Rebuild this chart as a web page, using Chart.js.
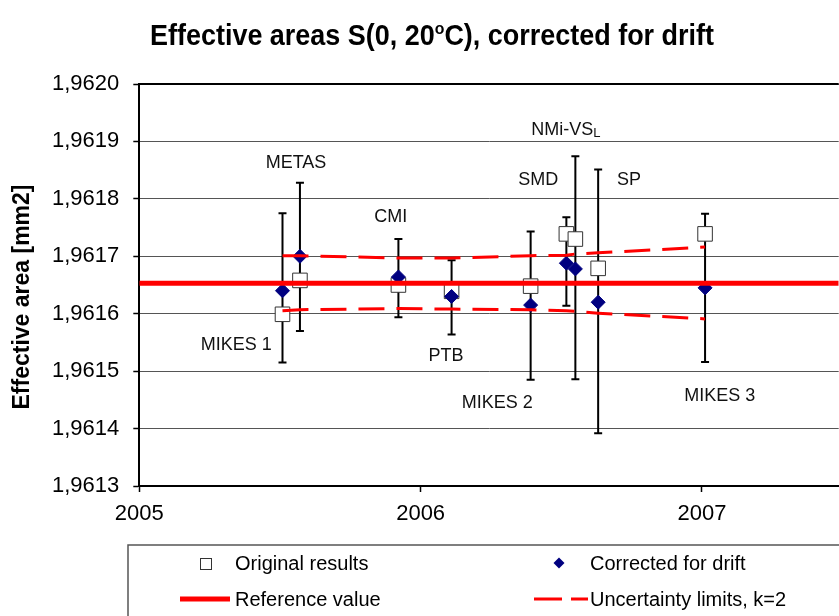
<!DOCTYPE html>
<html>
<head>
<meta charset="utf-8">
<title>Effective areas S(0, 20oC)</title>
<script src="https://cdn.jsdelivr.net/npm/chart.js@4.4.0/dist/chart.umd.min.js"></script>
<style>
  html, body { margin: 0; padding: 0; background: #fff; overflow: hidden; }
  /* the plot area runs off the right edge, so the canvas is a bit wider than the picture */
  #wrap { position: relative; width: 839px; height: 616px; overflow: hidden; }
</style>
</head>
<body>
<div id="wrap"><canvas id="chart" width="850" height="616"></canvas></div>
<script>
// participants and the date of each measurement (decimal year)
const labs = ['MIKES 1', 'METAS', 'CMI', 'PTB', 'MIKES 2', 'SMD', 'NMi-VSL', 'SP', 'MIKES 3'];
const dates = [2005.509, 2005.571, 2005.921, 2006.110, 2006.391, 2006.518, 2006.550, 2006.631, 2007.011];

// effective areas [mm2]
const original = [1.961599, 1.961658, 1.961650, 1.961639, 1.961648, 1.961739, 1.961730, 1.961679, 1.961739];
const corrected = [1.961640, 1.961700, 1.961664, 1.961630, 1.961615, 1.961688, 1.961678, 1.961620, 1.961645];

// error bars round the corrected values
const errLow = [1.961515, 1.961570, 1.961594, 1.961564, 1.961485, 1.961614, 1.961486, 1.961392, 1.961516];
const errHigh = [1.961775, 1.961828, 1.961730, 1.961693, 1.961743, 1.961768, 1.961874, 1.961851, 1.961774];

// reference value and uncertainty limits (k=2)
const refValue = 1.961653;
const upperLimit = [1.961701, 1.961701, 1.961697, 1.961697, 1.961701, 1.961702, 1.961704, 1.961706, 1.961716];
const lowerLimit = [1.961605, 1.961607, 1.961609, 1.961608, 1.961607, 1.961605, 1.961604, 1.961601, 1.961591];

// axes
const xTicks = [2005, 2006, 2007];
const yTicks = [1.9613, 1.9614, 1.9615, 1.9616, 1.9617, 1.9618, 1.9619, 1.9620];
const xMin = 2005, xMax = 2007.486;

// where the participant names sit (x = year, y = area)
const labelAt = [
  [2005.345, 1.961546], [2005.557, 1.961863], [2005.894, 1.961769],
  [2006.090, 1.961526], [2006.272, 1.961444], [2006.418, 1.961832],
  [2006.516, 1.961920], [2006.741, 1.961832], [2007.063, 1.961457]
];

const FONT = "'Liberation Sans', Arial, sans-serif";

// error bars, drawn under the markers
const errorBars = {
  id: 'errorBars',
  beforeDatasetsDraw(chart) {
    const ctx = chart.ctx, xs = chart.scales.x, ys = chart.scales.y;
    ctx.save();
    ctx.strokeStyle = '#000';
    ctx.lineWidth = 2;
    for (let i = 0; i < dates.length; i++) {
      const x = xs.getPixelForValue(dates[i]);
      const y1 = ys.getPixelForValue(errLow[i]);
      const y2 = ys.getPixelForValue(errHigh[i]);
      ctx.beginPath();
      ctx.moveTo(x, y1); ctx.lineTo(x, y2);
      ctx.moveTo(x - 4, y1); ctx.lineTo(x + 4, y1);
      ctx.moveTo(x - 4, y2); ctx.lineTo(x + 4, y2);
      ctx.stroke();
    }
    ctx.restore();
  }
};

// title, names, y title, top border and legend box
const extras = {
  id: 'extras',
  afterDraw(chart) {
    const ctx = chart.ctx, xs = chart.scales.x, ys = chart.scales.y;
    const area = chart.chartArea;
    ctx.save();

    // top border of the plot area
    ctx.strokeStyle = '#000';
    ctx.lineWidth = 2;
    ctx.beginPath();
    ctx.moveTo(area.left, area.top); ctx.lineTo(area.right, area.top);
    ctx.stroke();

    // participant names
    ctx.fillStyle = '#111';
    ctx.textBaseline = 'middle';
    ctx.font = '18px ' + FONT;
    for (let i = 0; i < labs.length; i++) {
      const x = xs.getPixelForValue(labelAt[i][0]);
      const y = ys.getPixelForValue(labelAt[i][1]);
      if (labs[i] === 'NMi-VSL') {
        ctx.font = '18px ' + FONT;
        const w1 = ctx.measureText('NMi-VS').width;
        ctx.font = '13px ' + FONT;
        const w2 = ctx.measureText('L').width;
        ctx.textAlign = 'left';
        ctx.font = '18px ' + FONT;
        ctx.fillText('NMi-VS', x - (w1 + w2) / 2, y);
        ctx.font = '13px ' + FONT;
        ctx.fillText('L', x - (w1 + w2) / 2 + w1, y + 3);
        ctx.font = '18px ' + FONT;
      } else {
        ctx.textAlign = 'center';
        ctx.fillText(labs[i], x, y);
      }
    }

    // chart title with superscript o
    const F = 29;
    const p1 = 'Effective areas S(0, 20', p2 = 'o', p3 = 'C), corrected for drift';
    ctx.font = 'bold ' + F + 'px ' + FONT;
    const w1 = ctx.measureText(p1).width, w3 = ctx.measureText(p3).width;
    ctx.font = 'bold ' + Math.round(F * 0.6) + 'px ' + FONT;
    const w2 = ctx.measureText(p2).width;
    const total = w1 + w2 + w3;
    const sx = 564 / total;
    const base = 45;
    ctx.save();
    ctx.translate(432 - 282, 0);
    ctx.scale(sx, 1);
    ctx.fillStyle = '#000';
    ctx.textAlign = 'left';
    ctx.textBaseline = 'alphabetic';
    ctx.font = 'bold ' + F + 'px ' + FONT;
    ctx.fillText(p1, 0, base);
    ctx.font = 'bold ' + Math.round(F * 0.6) + 'px ' + FONT;
    ctx.fillText(p2, w1, base - F * 0.38);
    ctx.font = 'bold ' + F + 'px ' + FONT;
    ctx.fillText(p3, w1 + w2, base);
    ctx.restore();

    // y axis title
    ctx.save();
    ctx.translate(23, 297);
    ctx.rotate(-Math.PI / 2);
    ctx.fillStyle = '#000';
    ctx.textAlign = 'center';
    ctx.textBaseline = 'middle';
    ctx.font = 'bold 23px ' + FONT;
    ctx.fillText('Effective area [mm2]', 0, 0);
    ctx.restore();

    // legend
    ctx.strokeStyle = '#555';
    ctx.lineWidth = 1.5;
    ctx.strokeRect(128, 545, 800, 120);
    ctx.font = '20px ' + FONT;
    ctx.textAlign = 'left';
    ctx.textBaseline = 'middle';
    ctx.fillStyle = '#fff'; ctx.strokeStyle = '#333'; ctx.lineWidth = 1;
    ctx.fillRect(200, 558, 11, 11); ctx.strokeRect(200.5, 558.5, 11, 11);
    ctx.fillStyle = '#000';
    ctx.fillText('Original results', 235, 564);
    ctx.fillStyle = '#000080';
    Chart.helpers.drawPoint(ctx, { pointStyle: 'rectRot', radius: 5.5, borderWidth: 0 }, 559, 563);
    ctx.fillStyle = '#000';
    ctx.fillText('Corrected for drift', 590, 564);
    ctx.strokeStyle = '#ff0000';
    ctx.lineWidth = 5;
    ctx.beginPath(); ctx.moveTo(180, 599); ctx.lineTo(230, 599); ctx.stroke();
    ctx.fillText('Reference value', 235, 600);
    ctx.lineWidth = 3;
    ctx.beginPath(); ctx.moveTo(534, 599); ctx.lineTo(562, 599);
    ctx.moveTo(571, 599); ctx.lineTo(588, 599); ctx.stroke();
    ctx.fillText('Uncertainty limits, k=2', 590, 600);

    ctx.restore();
  }
};

const ctx = document.getElementById('chart').getContext('2d');
const myChart = new Chart(ctx, {
  type: 'scatter',
  data: {
    datasets: [
      {
        label: 'Reference value',
        data: [{ x: xMin, y: refValue }, { x: xMax, y: refValue }],
        showLine: true, borderColor: '#ff0000', borderWidth: 5, pointRadius: 0, order: 0
      },
      {
        label: 'Uncertainty limits, k=2',
        data: dates.map((d, i) => ({ x: d, y: upperLimit[i] })),
        showLine: true, borderColor: '#ff0000', borderWidth: 3, borderDash: [26, 12],
        pointRadius: 0, tension: 0, order: 1
      },
      {
        label: 'Uncertainty limits, k=2 (lower)',
        data: dates.map((d, i) => ({ x: d, y: lowerLimit[i] })),
        showLine: true, borderColor: '#ff0000', borderWidth: 3, borderDash: [26, 12],
        pointRadius: 0, tension: 0, order: 1
      },
      {
        label: 'Corrected for drift',
        data: dates.map((d, i) => ({ x: d, y: corrected[i] })),
        pointStyle: 'rectRot', pointRadius: 7, backgroundColor: '#000080',
        borderColor: '#000080', borderWidth: 1, order: 2
      },
      {
        label: 'Original results',
        data: dates.map((d, i) => ({ x: d, y: original[i] })),
        pointStyle: 'rect', pointRadius: 10.3, backgroundColor: '#ffffff',
        borderColor: '#333333', borderWidth: 1, order: 3
      }
    ]
  },
  options: {
    responsive: false,
    animation: false,
    layout: { padding: { top: 84, right: 0, bottom: 0, left: 0 } },
    plugins: {
      legend: { display: false },
      title: { display: false },
      tooltip: { enabled: false }
    },
    scales: {
      x: {
        type: 'linear',
        min: xMin, max: xMax,
        afterBuildTicks: s => { s.ticks = xTicks.map(v => ({ value: v })); },
        afterFit: s => { s.height = 130; },
        ticks: {
          callback: v => String(v),
          color: '#000', font: { family: FONT, size: 22 }, padding: 9, maxRotation: 0
        },
        grid: { drawOnChartArea: false, drawTicks: true, tickLength: 6, tickColor: '#000', tickWidth: 1.5 },
        border: { color: '#000', width: 2 }
      },
      y: {
        min: 1.9613, max: 1.9620,
        afterBuildTicks: s => { s.ticks = yTicks.map(v => ({ value: v })); },
        afterFit: s => { s.width = 139.3; },
        ticks: {
          callback: v => v.toFixed(4).replace('.', ','),
          color: '#000', font: { family: FONT, size: 22 }, padding: 14
        },
        grid: {
          color: '#555', lineWidth: 1, borderDash: [2, 2],
          tickLength: 6, tickColor: '#000', tickWidth: 1.5, tickBorderDash: []
        },
        border: { color: '#000', width: 2 }
      }
    }
  },
  plugins: [errorBars, extras]
});
</script>
</body>
</html>
